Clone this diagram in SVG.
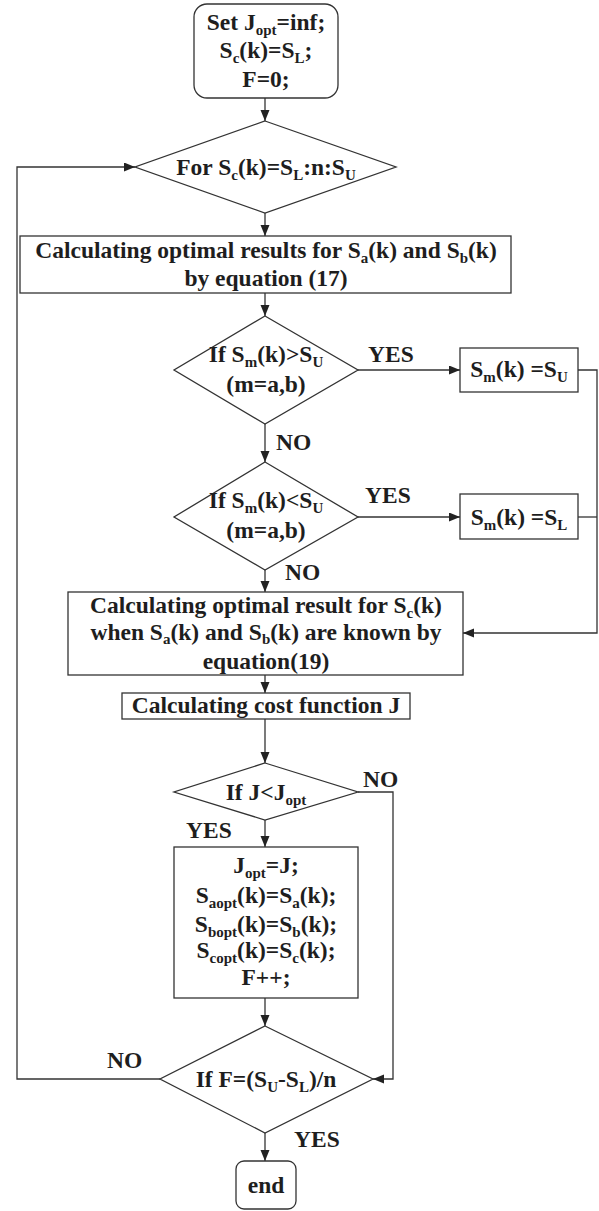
<svg xmlns="http://www.w3.org/2000/svg" width="599" height="1211" viewBox="0 0 599 1211">
<defs>
<style>
.t{font-family:"Liberation Serif","Times New Roman",serif;font-weight:bold;font-size:23.5px;fill:#1e1e1e;text-anchor:middle}
.l{font-family:"Liberation Serif","Times New Roman",serif;font-weight:bold;font-size:23.5px;fill:#1e1e1e;text-anchor:start}
.s{font-size:15px}
.n{fill:#fff;stroke:#333;stroke-width:1.3}
.c{fill:none;stroke:#333;stroke-width:1.3}
</style>
<marker id="ah" markerUnits="userSpaceOnUse" markerWidth="12" markerHeight="10" refX="11" refY="4.5" orient="auto">
<path d="M0,0 L11,4.5 L0,9 z" fill="#222"/>
</marker>
</defs>
<rect width="599" height="1211" fill="#fff"/>
<g id="connectors">
<path class="c" d="M265,98 V121" marker-end="url(#ah)"/>
<path class="c" d="M265,213 V236" marker-end="url(#ah)"/>
<path class="c" d="M265,293 V316" marker-end="url(#ah)"/>
<path class="c" d="M358,370 H460" marker-end="url(#ah)"/>
<path class="c" d="M265,424 V462" marker-end="url(#ah)"/>
<path class="c" d="M358,517 H460" marker-end="url(#ah)"/>
<path class="c" d="M578,370 H597 V633 H463" marker-end="url(#ah)"/>
<path class="c" d="M578,517 H597"/>
<path class="c" d="M265,570 V592" marker-end="url(#ah)"/>
<path class="c" d="M265,675 V693" marker-end="url(#ah)"/>
<path class="c" d="M265,719 V763" marker-end="url(#ah)"/>
<path class="c" d="M358,792 H393 V1079 H373" marker-end="url(#ah)"/>
<path class="c" d="M265,820 V847" marker-end="url(#ah)"/>
<path class="c" d="M265,998 V1026" marker-end="url(#ah)"/>
<path class="c" d="M160,1079 H17 V167 H135" marker-end="url(#ah)"/>
<path class="c" d="M265,1133 V1161" marker-end="url(#ah)"/>
</g>
<g id="labels">
<text class="l" x="368" y="362">YES</text>
<text class="l" x="276" y="450">NO</text>
<text class="l" x="365" y="503">YES</text>
<text class="l" x="285" y="580">NO</text>
<text class="l" x="363" y="787">NO</text>
<text class="l" x="186" y="838">YES</text>
<text class="l" x="107" y="1068">NO</text>
<text class="l" x="294" y="1147">YES</text>
</g>
<g id="start">
<rect class="n" x="194" y="4" width="144" height="94" rx="13"/>
<text class="t" x="266" y="30">Set J<tspan class="s" dy="5">opt</tspan><tspan dy="-5">=inf;</tspan></text>
<text class="t" x="266" y="58">S<tspan class="s" dy="5">c</tspan><tspan dy="-5">(k)=S</tspan><tspan class="s" dy="5">L</tspan><tspan dy="-5">;</tspan></text>
<text class="t" x="266" y="87">F=0;</text>
</g>
<g id="for">
<polygon class="n" points="265,121 396,167 265,213 135,167"/>
<text class="t" x="266" y="175">For S<tspan class="s" dy="5">c</tspan><tspan dy="-5">(k)=S</tspan><tspan class="s" dy="5">L</tspan><tspan dy="-5">:n:S</tspan><tspan class="s" dy="5">U</tspan></text>
</g>
<g id="calc-ab">
<rect class="n" x="20" y="236" width="491" height="57"/>
<text class="t" x="266" y="258">Calculating optimal results for S<tspan class="s" dy="5">a</tspan><tspan dy="-5">(k) and S</tspan><tspan class="s" dy="5">b</tspan><tspan dy="-5">(k)</tspan></text>
<text class="t" x="266" y="286">by equation (17)</text>
</g>
<g id="if-upper">
<polygon class="n" points="265,316 358,370 265,424 174,370"/>
<text class="t" x="266" y="362">If S<tspan class="s" dy="5">m</tspan><tspan dy="-5">(k)&gt;S</tspan><tspan class="s" dy="5">U</tspan></text>
<text class="t" x="266" y="392">(m=a,b)</text>
</g>
<g id="set-upper">
<rect class="n" x="460" y="348" width="118" height="44"/>
<text class="t" x="519" y="377">S<tspan class="s" dy="5">m</tspan><tspan dy="-5">(k) =S</tspan><tspan class="s" dy="5">U</tspan></text>
</g>
<g id="if-lower">
<polygon class="n" points="265,462 358,517 265,570 174,517"/>
<text class="t" x="266" y="508">If S<tspan class="s" dy="5">m</tspan><tspan dy="-5">(k)&lt;S</tspan><tspan class="s" dy="5">U</tspan></text>
<text class="t" x="266" y="538">(m=a,b)</text>
</g>
<g id="set-lower">
<rect class="n" x="460" y="494" width="118" height="45"/>
<text class="t" x="519" y="525">S<tspan class="s" dy="5">m</tspan><tspan dy="-5">(k) =S</tspan><tspan class="s" dy="5">L</tspan></text>
</g>
<g id="calc-c">
<rect class="n" x="68" y="592" width="395" height="83"/>
<text class="t" x="266" y="613">Calculating optimal result for S<tspan class="s" dy="5">c</tspan><tspan dy="-5">(k)</tspan></text>
<text class="t" x="266" y="640">when S<tspan class="s" dy="4">a</tspan><tspan dy="-4">(k) and S</tspan><tspan class="s" dy="4">b</tspan><tspan dy="-4">(k) are known by</tspan></text>
<text class="t" x="266" y="669">equation(19)</text>
</g>
<g id="cost">
<rect class="n" x="122" y="693" width="288" height="26"/>
<text class="t" x="266" y="713">Calculating cost function J</text>
</g>
<g id="if-j">
<polygon class="n" points="265,763 358,792 265,820 174,792"/>
<text class="t" x="266" y="800">If J&lt;J<tspan class="s" dy="5">opt</tspan></text>
</g>
<g id="update">
<rect class="n" x="174" y="847" width="184" height="151"/>
<text class="t" x="266" y="873">J<tspan class="s" dy="5">opt</tspan><tspan dy="-5">=J;</tspan></text>
<text class="t" x="266" y="903">S<tspan class="s" dy="5">aopt</tspan><tspan dy="-5">(k)=S</tspan><tspan class="s" dy="5">a</tspan><tspan dy="-5">(k);</tspan></text>
<text class="t" x="266" y="932">S<tspan class="s" dy="5">bopt</tspan><tspan dy="-5">(k)=S</tspan><tspan class="s" dy="5">b</tspan><tspan dy="-5">(k);</tspan></text>
<text class="t" x="266" y="958">S<tspan class="s" dy="5">copt</tspan><tspan dy="-5">(k)=S</tspan><tspan class="s" dy="5">c</tspan><tspan dy="-5">(k);</tspan></text>
<text class="t" x="266" y="985">F++;</text>
</g>
<g id="if-f">
<polygon class="n" points="265,1026 373,1079 265,1133 160,1079"/>
<text class="t" x="266" y="1087">If F=(S<tspan class="s" dy="5">U</tspan><tspan dy="-5">-S</tspan><tspan class="s" dy="5">L</tspan><tspan dy="-5">)/n</tspan></text>
</g>
<g id="end">
<rect class="n" x="236" y="1161" width="60" height="48" rx="8"/>
<text class="t" x="266" y="1193">end</text>
</g>
</svg>
